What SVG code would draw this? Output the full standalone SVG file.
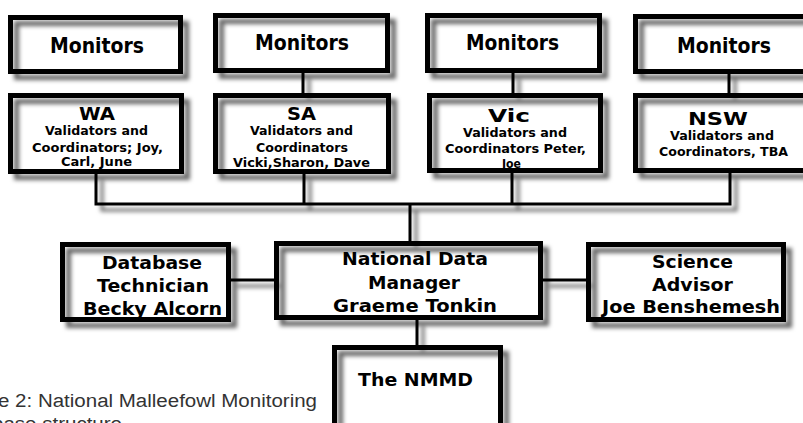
<svg xmlns="http://www.w3.org/2000/svg" width="803" height="423" viewBox="0 0 803 423">
<defs>
<filter id="sh" filterUnits="userSpaceOnUse" x="-20" y="-20" width="860" height="480">
<feGaussianBlur in="SourceAlpha" stdDeviation="2"/>
<feOffset dx="6" dy="6" result="b"/>
<feFlood flood-color="#000" flood-opacity="0.6"/>
<feComposite in2="b" operator="in"/>
<feMerge><feMergeNode/><feMergeNode in="SourceGraphic"/></feMerge>
</filter>
</defs>
<style>
.box{fill:none;stroke:#000;stroke-width:5;filter:url(#sh)}
.ln{fill:none;stroke:#000;stroke-width:3;stroke-linecap:butt}
text{font-family:"DejaVu Sans","Verdana",sans-serif;font-weight:bold;fill:#000}
.m{font-size:22px}
.h{font-size:18.5px}
.s{font-size:13px}
.p{font-size:17px}
.cap{font-family:"Liberation Sans",Arial,sans-serif;font-weight:normal;font-size:18px;fill:#333}
</style>
<rect x="0" y="0" width="803" height="423" fill="#fff"/>
<g id="connectors" filter="url(#sh)">
<path class="ln" d="M303 73V93M513 73V93M729 73V93"/>
<path class="ln" d="M96 174V204M304 174V204M512 173V204M730 173V204M94.5 204H731.5M410 204V241"/>
<path class="ln" d="M231 280H274M543 280H586M417 320V345"/>
</g>
<g id="monitors-wa">
<text class="m" x="50" y="52.5" textLength="94" lengthAdjust="spacingAndGlyphs">Monitors</text>
<rect class="box" x="10.5" y="17.5" width="170" height="54"/>
</g>
<g id="monitors-sa">
<text class="m" x="255" y="50" textLength="94" lengthAdjust="spacingAndGlyphs">Monitors</text>
<rect class="box" x="215.5" y="15.5" width="172" height="55"/>
</g>
<g id="monitors-vic">
<text class="m" x="466" y="50" textLength="93" lengthAdjust="spacingAndGlyphs">Monitors</text>
<rect class="box" x="427.5" y="15.5" width="172" height="55"/>
</g>
<g id="monitors-nsw">
<text class="m" x="677" y="53" textLength="94" lengthAdjust="spacingAndGlyphs">Monitors</text>
<rect class="box" x="635.5" y="16.5" width="175" height="55"/>
</g>
<g id="wa">
<text class="h" x="79" y="120" textLength="36" lengthAdjust="spacingAndGlyphs">WA</text>
<text class="s" x="45" y="135" textLength="103" lengthAdjust="spacingAndGlyphs">Validators and</text>
<text class="s" x="32" y="151.5" textLength="131" lengthAdjust="spacingAndGlyphs">Coordinators; Joy,</text>
<text class="s" x="61" y="166" textLength="71" lengthAdjust="spacingAndGlyphs">Carl, June</text>
<rect class="box" x="10.5" y="95.5" width="171" height="76"/>
</g>
<g id="sa">
<text class="h" x="287" y="120" textLength="29" lengthAdjust="spacingAndGlyphs">SA</text>
<text class="s" x="250" y="135" textLength="103" lengthAdjust="spacingAndGlyphs">Validators and</text>
<text class="s" x="256" y="151.5" textLength="92" lengthAdjust="spacingAndGlyphs">Coordinators</text>
<text class="s" x="233" y="166.5" textLength="137" lengthAdjust="spacingAndGlyphs">Vicki,Sharon, Dave</text>
<rect class="box" x="215.5" y="95.5" width="173" height="76"/>
</g>
<g id="vic">
<text class="h" x="488" y="121.5" textLength="42" lengthAdjust="spacingAndGlyphs">Vic</text>
<text class="s" x="463" y="136.5" textLength="104" lengthAdjust="spacingAndGlyphs">Validators and</text>
<text class="s" x="445" y="152.5" textLength="141" lengthAdjust="spacingAndGlyphs">Coordinators Peter,</text>
<text class="s" x="502" y="168" textLength="19" lengthAdjust="spacingAndGlyphs">Joe</text>
<rect class="box" x="429.5" y="95.5" width="171" height="75"/>
</g>
<g id="nsw">
<text class="h" x="688" y="125" textLength="60" lengthAdjust="spacingAndGlyphs">NSW</text>
<text class="s" x="670" y="140" textLength="104" lengthAdjust="spacingAndGlyphs">Validators and</text>
<text class="s" x="659" y="156" textLength="129" lengthAdjust="spacingAndGlyphs">Coordinators, TBA</text>
<rect class="box" x="635.5" y="95.5" width="175" height="75"/>
</g>
<g id="database-technician">
<text class="p" x="102" y="269" textLength="100" lengthAdjust="spacingAndGlyphs">Database</text>
<text class="p" x="97" y="292" textLength="112" lengthAdjust="spacingAndGlyphs">Technician</text>
<text class="p" x="83" y="315" textLength="139" lengthAdjust="spacingAndGlyphs">Becky Alcorn</text>
<rect class="box" x="62.5" y="244.5" width="166" height="75"/>
</g>
<g id="national-data-manager">
<text class="p" x="342" y="265" textLength="146" lengthAdjust="spacingAndGlyphs">National Data</text>
<text class="p" x="368" y="289" textLength="92" lengthAdjust="spacingAndGlyphs">Manager</text>
<text class="p" x="333" y="312" textLength="164" lengthAdjust="spacingAndGlyphs">Graeme Tonkin</text>
<rect class="box" x="276.5" y="243.5" width="264" height="74"/>
</g>
<g id="science-advisor">
<text class="p" x="652" y="268" textLength="81" lengthAdjust="spacingAndGlyphs">Science</text>
<text class="p" x="652" y="291" textLength="81" lengthAdjust="spacingAndGlyphs">Advisor</text>
<text class="p" x="602" y="313" textLength="178" lengthAdjust="spacingAndGlyphs">Joe Benshemesh</text>
<rect class="box" x="588.5" y="244.5" width="195" height="75"/>
</g>
<g id="nmmd">
<text class="h" x="358" y="386" textLength="115" lengthAdjust="spacingAndGlyphs">The NMMD</text>
<rect class="box" x="334.5" y="347.5" width="166" height="100"/>
</g>
<g id="caption">
<text class="cap" x="-2" y="407" textLength="319" lengthAdjust="spacingAndGlyphs">e 2: National Malleefowl Monitoring</text>
<text class="cap" x="-8" y="430" textLength="130" lengthAdjust="spacingAndGlyphs">base structure</text>
</g>
</svg>
